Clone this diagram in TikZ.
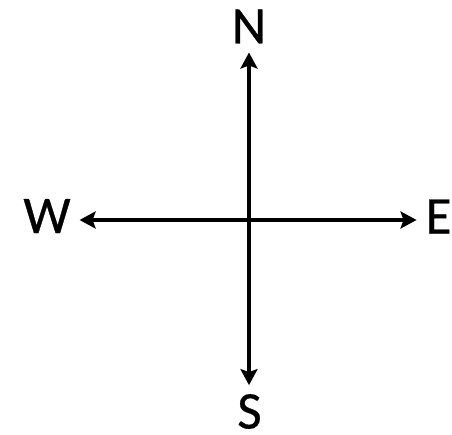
\documentclass[tikz,border=0pt]{standalone}
\usepackage{fontspec}
\setmainfont[FakeBold=0.6]{Carlito}
\usetikzlibrary{arrows.meta}
\begin{document}
\begin{tikzpicture}[x=1pt,y=-1pt,
  lbl/.style={inner sep=0pt,outer sep=9pt,font=\fontsize{53}{53}\selectfont},
  axis/.style={line width=3.2pt,{Stealth[length=16pt,width=17pt,inset=3pt]}-{Stealth[length=16pt,width=17pt,inset=3pt]}}]
\useasboundingbox (0,0) rectangle (452,435);
\coordinate (c) at (249,220);
\node[lbl] (n) at (249,26.5) {N};
\node[lbl] (s) at (249.5,411.5) {S};
\node[lbl] (w) at (47,216) {W};
\node[lbl] (e) at (438.5,216.5) {E};
\draw[axis] (c |- n.south) -- (c |- s.north);
\draw[axis] (c -| w.east) -- (c -| e.west);
\end{tikzpicture}
\end{document}
